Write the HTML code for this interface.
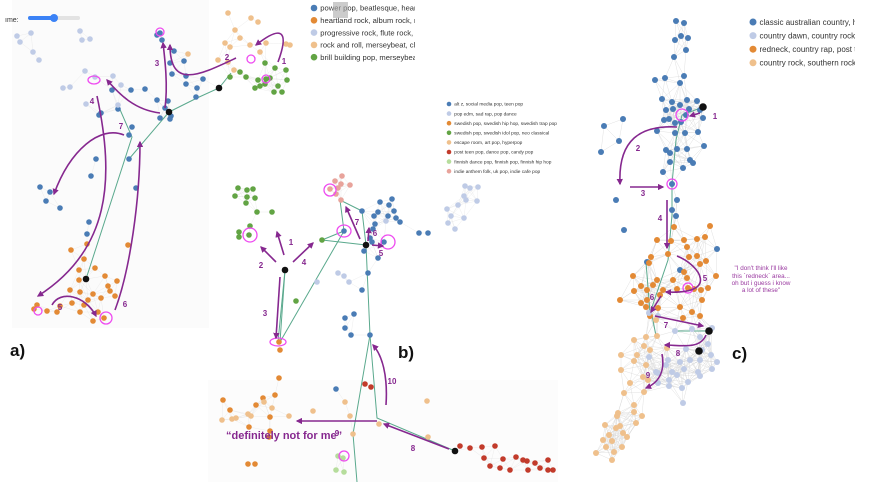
<!DOCTYPE html>
<html><head><meta charset="utf-8"><style>
html,body{margin:0;padding:0;background:#fff;width:877px;height:482px;overflow:hidden}
svg{display:block;font-family:"Liberation Sans",sans-serif}
</style></head><body>
<svg id="fig" width="877" height="482" viewBox="0 0 877 482" xmlns="http://www.w3.org/2000/svg">
<defs><marker id="ah" viewBox="0 0 10 10" refX="8" refY="5" markerWidth="4" markerHeight="4" orient="auto"><path d="M0,0L10,5L0,10z" fill="#86288f"/></marker>
<clipPath id="clipA"><rect x="300" y="0" width="115" height="70"/></clipPath>
<clipPath id="clipC"><rect x="740" y="0" width="115" height="80"/></clipPath></defs>
<rect x="12" y="0" width="197" height="328" fill="#fbfbfb"/>
<rect x="208" y="380" width="350" height="102" fill="#fcfcfc"/>
<g id="edges"></g><g id="green"></g><g id="nodes"></g><g id="rings"></g><g id="arrows"></g>
<g>
<text x="5" y="22" font-size="7" fill="#333">ıme:</text>
<rect x="28" y="16" width="52" height="4" rx="2" fill="#e3e3e3"/><rect x="28" y="16" width="26" height="4" rx="2" fill="#3b82f6"/><circle cx="54" cy="18" r="4" fill="#3b82f6"/>
</g>
<text x="10" y="356" font-size="17" font-weight="bold" fill="#111">a)</text>
<text x="398" y="358" font-size="17" font-weight="bold" fill="#111">b)</text>
<text x="732" y="359" font-size="17" font-weight="bold" fill="#111">c)</text>
<text x="226" y="439" font-size="11" font-weight="bold" fill="#86288f">“definitely not for me”</text>
<g font-size="6.3" fill="#9a3aa0" text-anchor="middle">
<text x="761" y="270">"I don't think I'll like</text><text x="761" y="278">this `redneck` area...</text><text x="761" y="285">oh but i guess i know</text><text x="761" y="292">a lot of these"</text></g>
<g id="legends"><g id="legA" clip-path="url(#clipA)"></g><g id="legB"></g><g id="legC" clip-path="url(#clipC)"></g></g>
<rect x="333" y="2" width="15" height="16" fill="#aaa" opacity="0.6"/>
</svg>
<script>
const COLORS=['#4a7cb5','#e38a35','#bfcbe6','#efc08c','#62a444','#c23b2b','#b6dd9c','#e8a39b','#111'];
const nodesA=[[160,33,0],[157,35,0],[162,40,0],[174,51,0],[184,61,0],[170,63,0],[172,74,0],[186,76,0],[203,79,0],[197,88,0],[186,84,0],[196,97,0],[168,101,0],[157,100,0],[165,108,0],[171,116,0],[160,118,0],[170,119,0],[131,90,0],[145,89,0],[112,90,0],[101,113,0],[99,115,0],[118,109,0],[132,127,0],[129,135,0],[129,159,0],[96,159,0],[91,176,0],[40,187,0],[50,192,0],[46,201,0],[60,208,0],[136,188,0],[89,222,0],[87,234,0],
[17,36,2],[31,33,2],[20,42,2],[33,52,2],[39,60,2],[82,40,2],[85,71,2],[95,77,2],[113,76,2],[121,85,2],[70,87,2],[63,88,2],[86,104,2],[80,31,2],[90,39,2],[118,105,2],
[228,13,3],[235,30,3],[251,18,3],[258,22,3],[240,38,3],[225,43,3],[230,47,3],[250,45,3],[266,43,3],[286,44,3],[260,52,3],[290,45,3],[218,60,3],[228,62,3],[234,70,3],[188,54,3],
[230,77,4],[246,77,4],[258,80,4],[265,63,4],[275,68,4],[270,78,4],[265,84,4],[286,70,4],[287,80,4],[274,92,4],[282,92,4],[278,86,4],[260,86,4],[255,88,4],[240,72,4],[266,79,4],
[71,250,1],[87,244,1],[84,259,1],[79,270,1],[95,268,1],[79,280,1],[105,276,1],[108,286,1],[117,281,1],[110,291,1],[115,296,1],[101,298,1],[80,292,1],[93,294,1],[70,290,1],[88,300,1],[72,303,1],[60,306,1],[37,305,1],[47,311,1],[57,312,1],[84,305,1],[80,312,1],[98,312,1],[93,321,1],[34,309,1],[128,245,1],[104,318,1],
[219,88,8],[169,112,8],[86,279,8]];
const nodesB=[[238,188,4],[247,190,4],[253,189,4],[235,196,4],[247,197,4],[255,198,4],[246,203,4],[257,212,4],[272,212,4],[250,226,4],[239,237,4],[249,235,4],[239,232,4],[322,240,4],[296,301,4],
[342,176,7],[335,181,7],[341,184,7],[350,185,7],[338,188,7],[330,189,7],[336,194,7],[341,200,7],
[380,202,0],[392,199,0],[389,205,0],[394,211,0],[378,212,0],[388,216,0],[374,216,0],[396,218,0],[375,224,0],[362,211,0],[344,231,0],[400,222,0],[373,229,0],[370,238,0],[384,242,0],[372,242,0],[364,251,0],[378,258,0],[368,273,0],[362,290,0],[345,318,0],[354,314,0],[345,328,0],[351,335,0],[370,335,0],[336,389,0],[419,233,0],[428,233,0],
[465,186,2],[478,187,2],[470,188,2],[464,196,2],[458,205,2],[466,200,2],[477,201,2],[447,209,2],[451,216,2],[464,218,2],[455,229,2],[448,223,2],[386,221,2],[317,282,2],[338,273,2],[344,276,2],[349,282,2],
[279,342,1],[280,350,1],[279,378,1],[275,395,1],[223,400,1],[256,405,1],[263,398,1],[230,410,1],[270,417,1],[249,427,1],[269,437,1],[248,464,1],[255,464,1],[270,431,1],
[222,420,3],[232,419,3],[236,418,3],[248,414,3],[251,416,3],[264,402,3],[272,408,3],[289,416,3],[313,411,3],[345,402,3],[350,416,3],[353,434,3],[427,401,3],[379,424,3],[428,437,3],
[365,384,5],[371,387,5],[460,446,5],[470,448,5],[482,447,5],[495,446,5],[484,458,5],[503,459,5],[516,457,5],[523,460,5],[535,463,5],[527,461,5],[500,468,5],[528,470,5],[540,468,5],[548,470,5],[548,460,5],[510,470,5],[553,470,5],[490,466,5],
[338,456,6],[343,458,6],[336,470,6],[344,472,6],
[285,270,8],[366,245,8],[455,451,8]];
const nodesC=[[676,21,0],[684,23,0],[681,36,0],[675,40,0],[688,38,0],[686,50,0],[674,57,0],[684,76,0],[655,80,0],[665,78,0],[680,83,0],[662,99,0],[672,102,0],[680,105,0],[687,100,0],[697,101,0],[666,110,0],[673,109,0],[689,109,0],[700,110,0],[669,119,0],[686,115,0],[703,118,0],[675,123,0],[681,122,0],[664,120,0],[623,119,0],[604,126,0],[619,141,0],[601,152,0],[657,131,0],[675,133,0],[685,133,0],[698,132,0],[677,149,0],[666,150,0],[687,149,0],[704,146,0],[670,153,0],[690,160,0],[670,162,0],[683,168,0],[663,172,0],[693,163,0],[672,184,0],[677,200,0],[672,210,0],[676,216,0],[616,200,0],[624,230,0],[717,249,0],[647,262,0],[680,270,0],
[674,227,1],[710,226,1],[705,237,1],[697,239,1],[684,240,1],[657,240,1],[671,241,1],[687,247,1],[668,254,1],[689,257,1],[697,256,1],[706,261,1],[700,264,1],[651,257,1],[649,263,1],[633,276,1],[641,286,1],[653,285,1],[684,272,1],[687,278,1],[701,290,1],[716,276,1],[673,280,1],[657,280,1],[647,290,1],[677,289,1],[688,288,1],[660,295,1],[694,289,1],[708,288,1],[647,300,1],[663,290,1],[702,300,1],[646,307,1],[658,308,1],[680,307,1],[692,312,1],[650,316,1],[683,318,1],[700,316,1],[634,291,1],[620,300,1],[641,303,1],
[649,313,2],[658,316,2],[675,331,2],[692,329,2],[700,337,2],[712,328,2],[708,344,2],[702,350,2],[686,349,2],[711,355,2],[717,362,2],[712,369,2],[700,360,2],[690,360,2],[680,362,2],[668,360,2],[666,365,2],[672,372,2],[684,369,2],[698,372,2],[700,376,2],[688,382,2],[677,375,2],[669,380,2],[658,373,2],[682,388,2],[649,357,2],[683,403,2],[658,383,2],[656,372,2],[669,386,2],
[656,320,3],[657,336,3],[646,337,3],[644,346,3],[667,348,3],[650,350,3],[646,365,3],[634,340,3],[637,355,3],[648,380,3],[621,355,3],[634,361,3],[621,370,3],[630,383,3],[624,393,3],[644,392,3],[643,377,3],[634,405,3],[618,413,3],[634,412,3],[642,416,3],[605,425,3],[609,435,3],[623,433,3],[616,428,3],[636,423,3],[603,440,3],[612,441,3],[627,437,3],[622,447,3],[606,447,3],[596,453,3],[614,452,3],[612,460,3],[617,416,3],[620,426,3],
[703,107,8],[709,331,8],[699,351,8]];
const greenPaths=[[[169,112],[197,98],[219,88],[231,73]],[[86,279],[132,137],[118,105]],[[129,159],[169,112]],
[[285,270],[280,342],[344,231],[340,200],[362,211],[366,245]],[[322,240],[344,231]],[[322,240],[366,245]],[[285,270],[278,342]],[[366,245],[370,335],[353,434],[357,482]],[[370,335],[377,418],[455,451]],
[[703,107],[682,115],[676,140],[672,184],[672,215],[668,260],[651,310],[656,336]],[[646,262],[650,313]],[[709,331],[675,331]]];
const rings=[[160,32,4,4],[251,59,4,4],[94,80,6,4],[266,79,4,4],[38,311,4,4],[106,318,6,6],[330,190,6,6],[250,235,7,7],[344,231,7,6],[388,242,7,7],[278,342,8,4],[344,456,5,5],[682,115,6,6],[672,184,5,5],[688,288,5,5]];
const arrows=[["M278,62 C288,35 285,22 256,45","1",284,64],["M236,58 C200,75 170,90 170,45","2",227,60],["M165,108 C168,85 165,60 163,43","3",157,66],["M160,113 C135,110 120,95 107,80","4",92,104],["M97,96 C115,180 110,250 38,296","",0,0],["M124,135 C100,125 70,150 54,194","7",121,129],["M115,310 C130,270 140,200 140,142","6",125,307],["M52,305 C60,290 85,295 96,316","5",60,310],
["M284,255 L277,232","1",291,245],["M276,262 L261,247","2",261,268],["M293,262 L313,243","4",304,265],["M280,277 L276,338","3",265,316],["M360,239 L346,207","7",357,225],["M368,241 L369,228","6",375,236],["M372,245 L383,246","5",381,256],["M386,405 C388,375 382,355 373,345","10",392,384],["M377,421 L297,421","9",337,436],["M449,449 L384,424","8",413,451],
["M700,113 L690,116","1",715,119],["M677,127 C640,125 618,140 620,184","2",638,151],["M630,187 L663,187","3",643,196],["M667,200 L667,248","4",660,221],["M677,256 C700,265 720,295 666,292","5",705,281],["M661,296 L651,312","6",652,300],["M655,316 L703,326","7",666,328],["M706,335 C700,350 680,345 665,345","8",678,356],["M662,354 C665,370 660,382 646,388","9",648,378]];
const legA=["power pop, beatlesque, heartland","heartland rock, album rock, new w","progressive rock, flute rock, jazz f","rock and roll, merseybeat, classic","brill building pop, merseybeat, roc"];
const legAc=[0,1,2,3,4];
const legB=["alt z, social media pop, teen pop","pop edm, sad rap, pop dance","swedish pop, swedish hip hop, swedish trap pop","swedish pop, swedish idol pop, neo classical","escape room, art pop, hyperpop","post teen pop, dance pop, candy pop","finnish dance pop, finnish pop, finnish hip hop","indie anthem folk, uk pop, indie cafe pop"];
const legBc=[0,2,1,4,3,5,6,7];
const legC=["classic australian country, hear","country dawn, country rock, red","redneck, country rap, post teen","country rock, southern rock, cla"];
const legCc=[0,2,1,3];
const NS='http://www.w3.org/2000/svg';
function mk(t,a,p){const e=document.createElementNS(NS,t);for(const k in a)e.setAttribute(k,a[k]);p.appendChild(e);return e;}
const E=document.getElementById('edges'),N=document.getElementById('nodes');
[nodesA,nodesB,nodesC].forEach((set,si)=>{
 for(let i=0;i<set.length;i++)for(let j=i+1;j<set.length;j++){const dx=set[i][0]-set[j][0],dy=set[i][1]-set[j][1];const d=Math.hypot(dx,dy);
  if(d<(si==2?28:22)&&d>4){const l=mk('line',{x1:set[i][0],y1:set[i][1],x2:set[j][0],y2:set[j][1],stroke:'#d4d4d4','stroke-width':0.5,opacity:si==2?0.7:0.4},E);
  
  }}
 set.forEach(n=>{const r=n[2]==8?(si==2?3.8:3.3):(si==2?3:2.8);const c=mk('circle',{cx:n[0],cy:n[1],r:r,fill:COLORS[n[2]]},N);
  
  });
});
const G=document.getElementById('green');
greenPaths.forEach(p=>{const e=mk('polyline',{points:p.map(q=>q.join(',')).join(' '),fill:'none',stroke:'#5aa98d','stroke-width':1},G);
 
 });
const R=document.getElementById('rings');
rings.forEach(r=>{const e=mk('ellipse',{cx:r[0],cy:r[1],rx:r[2],ry:r[3],fill:'none',stroke:'#ee4bf0','stroke-width':1.3},R);
 
 });
const A=document.getElementById('arrows');
arrows.forEach(a=>{const p=mk('path',{d:a[0],fill:'none',stroke:'#86288f','stroke-width':1.6,'marker-end':'url(#ah)'},A);
 
 
 if(a[1]){const t=mk('text',{x:a[2],y:a[3],'font-size':8,'font-weight':'bold',fill:'#86288f','text-anchor':'middle'},A);t.textContent=a[1];
 
 }});
function legend(gid,labels,cols,x,y0,dy,r,fs){
 const L=document.getElementById(gid);
 labels.forEach((s,i)=>{const g=mk('g',{},L);
  
  
  mk('circle',{cx:x,cy:y0+i*dy,r:r,fill:COLORS[cols[i]]},g);
  const t=mk('text',{x:x+r+3,y:y0+i*dy+fs*0.35,'font-size':fs,fill:'#333'},g);t.textContent=s;});
}
legend('legA',legA,legAc,314,8,12.3,3.3,7.6);
legend('legB',legB,legBc,449,104,9.6,2.3,4.8);
legend('legC',legC,legCc,753,22,13.6,3.5,8);
</script>
</body></html>
